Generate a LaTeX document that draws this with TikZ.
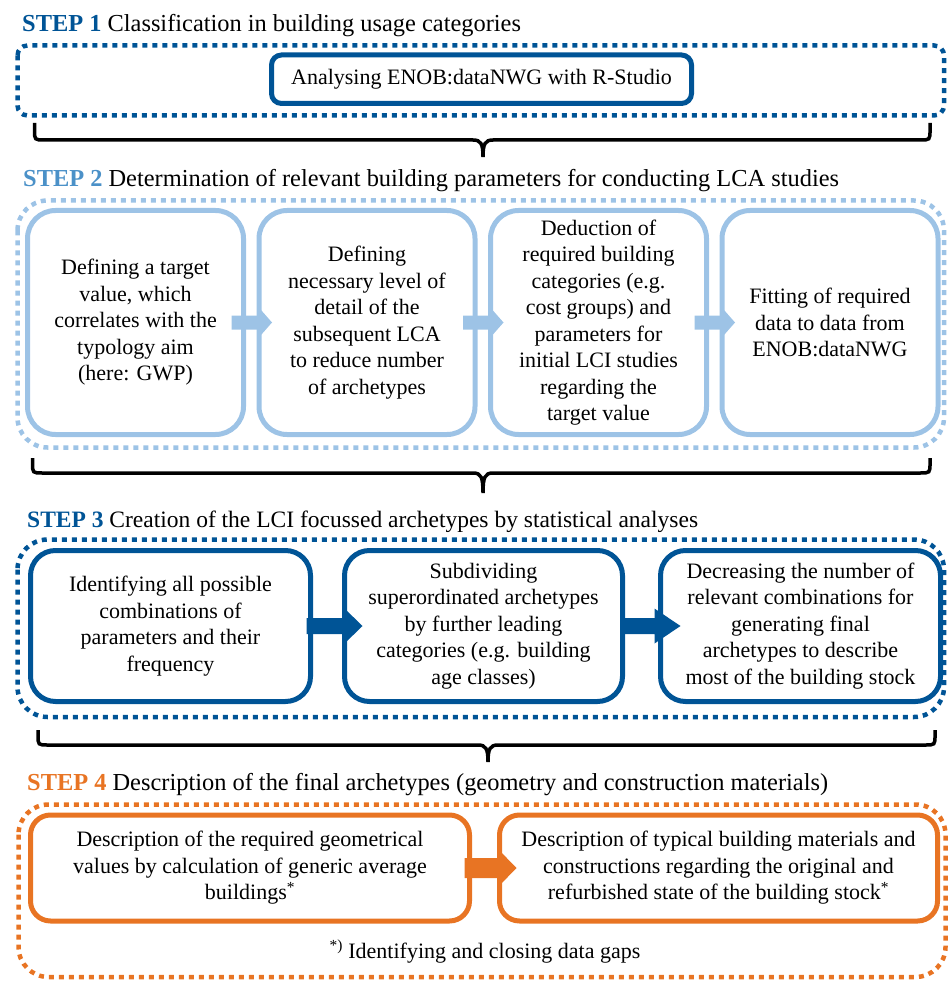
\documentclass[tikz,border=0pt]{standalone}
\usepackage{fontspec}
\setmainfont{Liberation Serif}
\usetikzlibrary{calc}
\definecolor{dblue}{RGB}{0,84,150}
\definecolor{lblue}{RGB}{157,195,230}
\definecolor{sblue}{RGB}{75,145,200}
\definecolor{orng}{RGB}{232,116,35}
\newcommand\myarrow[8]{\fill[#1] ($(#2.east)+(-#3,-#4)$) -- ($(#5.west)+(#6,-#4)$) -- ($(#5.west)+(#6,-#7)$) -- ($(#5.west)+(#8,0)$) -- ($(#5.west)+(#6,#7)$) -- ($(#5.west)+(#6,#4)$) -- ($(#2.east)+(-#3,#4)$) -- cycle;}
\newcommand\mybrace[6]{\draw[line width=3.5pt] (#1,#4) -- (#1,#5-10) .. controls (#1,#5) .. (#1+10,#5) -- (#3-10,#5) .. controls (#3-2,#5) and (#3,#5+4) .. (#3,#6) .. controls (#3,#5+4) and (#3+2,#5) .. (#3+10,#5) -- (#2-10,#5) .. controls (#2,#5) .. (#2,#5-10) -- (#2,#4);}
\newcommand\hdr[2]{\textbf{\color{#1}#2}}
\begin{document}
\begin{tikzpicture}[x=1pt,y=-1pt,
  title/.style={anchor=base west, inner sep=0pt, font=\fontsize{24.4}{29}\selectfont},
  cbox/.style={draw, line width=5pt, align=center, inner sep=0pt, font=\fontsize{22}{26.5}\selectfont},
  frame/.style={line width=4.5pt, dash pattern=on 5pt off 5pt}]
\useasboundingbox (0,0) rectangle (949,981);
% STEP 1
\node[title] (h1) at (22,32) {\hdr{dblue}{STEP 1} Classification in building usage categories};
\draw[frame, draw=dblue, rounded corners=10pt] (17.5,45.5) rectangle (944,115.5);
\node[cbox, draw=dblue, rounded corners=10pt, minimum width=420pt, minimum height=48.5pt] (s1) at (481.5,79.25) {Analysing ENOB:dataNWG with R-Studio};
\mybrace{34.5}{930}{483}{123}{140}{157}
% STEP 2
\node[title] (h2) at (23,187) {\hdr{sblue}{STEP 2} Determination of relevant building parameters for conducting LCA studies};
\draw[frame, draw=lblue, rounded corners=30pt] (17.5,200.5) rectangle (944,447.5);
\begin{scope}[every node/.style={cbox, draw=lblue, rounded corners=28pt, minimum width=216pt, minimum height=224pt}]
\node (s2a) at (135.5,322.5) {Defining a target\\ value, which\\ correlates with the\\ typology aim\\ (here: GWP)};
\node (s2b) at (367,322.5) {Defining\\ necessary level of\\ detail of the\\ subsequent LCA\\ to reduce number\\ of archetypes};
\node (s2c) at (598.5,322.5) {Deduction of\\ required building\\ categories (e.g.\\ cost groups) and\\ parameters for\\ initial LCI studies\\ regarding the\\ target value};
\node (s2d) at (830,322.5) {Fitting of required\\ data to data from\\ ENOB:dataNWG};
\end{scope}
\myarrow{lblue}{s2a}{14.5}{7}{s2b}{1}{16.5}{15.5}
\myarrow{lblue}{s2b}{14.5}{7}{s2c}{1}{16.5}{15.5}
\myarrow{lblue}{s2c}{14.5}{7}{s2d}{1}{16.5}{15.5}
\mybrace{32.5}{930}{483}{458}{473}{493}
% STEP 3
\node[title, font=\fontsize{23.5}{28}\selectfont] (h3) at (27,527) {\hdr{dblue}{STEP 3} Creation of the LCI focussed archetypes by statistical analyses};
\draw[frame, draw=dblue, rounded corners=30pt] (17.5,539.5) rectangle (944,717);
\begin{scope}[every node/.style={cbox, draw=dblue, rounded corners=25pt, minimum height=151pt}]
\node[minimum width=280pt] (s3a) at (170.5,626) {Identifying all possible\\ combinations of\\ parameters and their\\ frequency};
\node[minimum width=278pt] (s3b) at (483.5,626) {Subdividing\\ superordinated archetypes\\ by further leading\\ categories (e.g. building\\ age classes)};
\node[minimum width=280pt] (s3c) at (800.5,626) {Decreasing the number of\\ relevant combinations for\\ generating final\\ archetypes to describe\\ most of the building stock};
\end{scope}
\myarrow{dblue}{s3a}{6.5}{8}{s3b}{2.5}{17.5}{20.5}
\myarrow{dblue}{s3b}{4.5}{8}{s3c}{-3.5}{17.5}{22.5}
\mybrace{38}{935}{488}{730}{745}{762}
% STEP 4
\node[title] (h4) at (27,790) {\hdr{orng}{STEP 4} Description of the final archetypes (geometry and construction materials)};
\draw[frame, draw=orng, rounded corners=30pt] (18.5,804.5) rectangle (945.5,977);
\begin{scope}[every node/.style={cbox, draw=orng, rounded corners=20pt, minimum height=106pt}]
\node[minimum width=439pt] (s4a) at (250,868) {Description of the required geometrical\\ values by calculation of generic average\\ buildings\textsuperscript{*}};
\node[minimum width=438pt] (s4b) at (718.5,868) {Description of typical building materials and\\ constructions regarding the original and\\ refurbished state of the building stock\textsuperscript{*}};
\end{scope}
\myarrow{orng}{s4a}{7.5}{10}{s4b}{0.5}{19.5}{19.5}
\node[anchor=base, inner sep=0pt, font=\fontsize{22}{26.5}\selectfont] (fn) at (485,958) {\textsuperscript{*)} Identifying and closing data gaps};
\end{tikzpicture}
\end{document}
